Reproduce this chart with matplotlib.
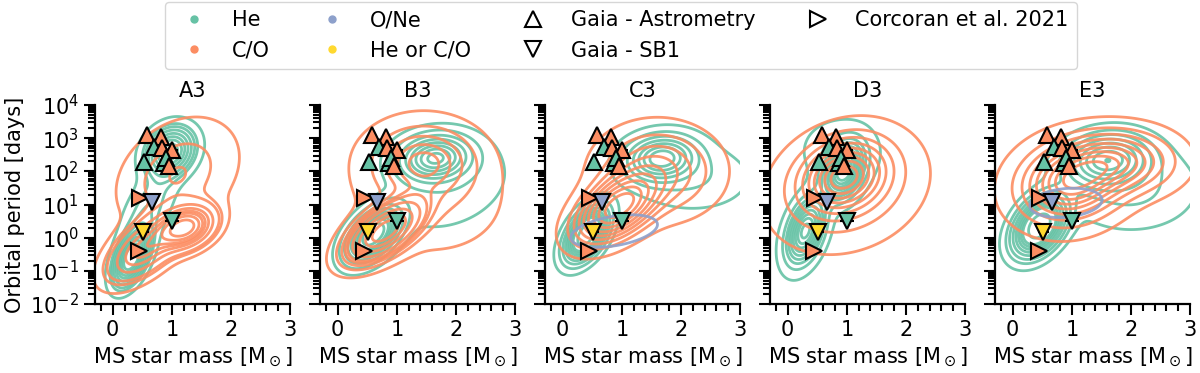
import matplotlib
matplotlib.use('Agg')
import matplotlib.pyplot as plt
import numpy as np
from matplotlib.lines import Line2D
from matplotlib.ticker import MultipleLocator, LogLocator, NullFormatter

plt.rcParams['font.size'] = 15

# colours (Set2)
c_he = '#66c2a5'
c_co = '#fc8d62'
c_one = '#8da0cb'
c_heco = '#ffd92f'

# observed systems
astro_mass = [0.58, 0.81, 0.69, 0.83, 1.00, 0.53, 0.86, 0.90, 0.95]
astro_period = [1250, 1100, 550, 500, 440, 195, 175, 250, 140]
astro_type = ['C/O', 'C/O', 'He', 'C/O', 'C/O', 'He', 'He', 'He', 'C/O']
astro_merr = [0.0, 0.05, 0.05, 0.08, 0.1, 0.0, 0.08, 0.08, 0.06]

sb1_mass = [0.67, 1.00, 0.52]
sb1_period = [11.5, 3.2, 1.45]
sb1_type = ['O/Ne', 'He', 'He or C/O']
sb1_merr = [0.0, 0.12, 0.1]

corc_mass = [0.46, 0.44]
corc_period = [15.5, 0.4]
corc_type = ['C/O', 'C/O']

# simulated populations:
# gaussian pieces [weight, mass, log10 P, sd mass, sd log10 P, corr]
he_a3 = [[0.42, 0.97, 2.60, 0.25, 0.45, 0.2],
         [0.40, 0.32, -0.60, 0.18, 0.50, 0.5],
         [0.18, 0.60, 0.90, 0.30, 0.80, 0.6]]
co_a3 = [[0.40, 1.22, 0.30, 0.26, 0.35, 0.3],
         [0.35, 0.55, -0.30, 0.35, 0.55, 0.6],
         [0.25, 1.10, 1.90, 0.60, 1.00, 0.3]]

he_b3 = [[0.40, 1.65, 2.40, 0.35, 0.40, 0.1],
         [0.45, 0.60, 0.10, 0.25, 0.45, 0.5],
         [0.15, 1.90, 1.50, 0.70, 0.90, 0.3]]
co_b3 = [[0.55, 0.80, 0.20, 0.35, 0.50, 0.6],
         [0.30, 1.45, 2.30, 0.55, 0.70, 0.0],
         [0.15, 1.60, 1.00, 0.80, 1.00, 0.0]]

he_c3 = [[0.40, 1.67, 2.40, 0.35, 0.40, 0.1],
         [0.45, 0.40, 0.10, 0.20, 0.45, 0.5],
         [0.15, 2.20, 1.80, 0.60, 0.60, 0.0]]
co_c3 = [[0.60, 0.92, 0.90, 0.40, 0.60, 0.5],
         [0.40, 1.60, 2.00, 0.60, 0.80, 0.0]]
one_c3 = [[1.0, 0.87, 0.20, 0.30, 0.20, 0.4]]

he_d3 = [[0.40, 0.95, 2.00, 0.20, 0.50, 0.3],
         [0.45, 0.30, 0.20, 0.20, 0.60, 0.4],
         [0.15, 0.90, 2.60, 0.40, 0.60, 0.0]]
co_d3 = [[0.60, 0.95, 1.85, 0.40, 0.60, 0.2],
         [0.40, 1.00, 1.50, 0.70, 1.00, 0.2]]

he_e3 = [[0.35, 1.60, 2.35, 0.40, 0.45, 0.1],
         [0.45, 0.45, 0.35, 0.25, 0.50, 0.4],
         [0.20, 2.00, 1.50, 0.70, 0.80, 0.0]]
co_e3 = [[0.60, 0.95, 1.60, 0.55, 0.75, 0.1],
         [0.40, 1.80, 2.30, 0.60, 0.60, 0.0]]
one_e3 = [[1.0, 0.90, 1.05, 0.25, 0.18, 0.2]]

panels = ['A3', 'B3', 'C3', 'D3', 'E3']
pops = {
    'A3': [(he_a3, c_he), (co_a3, c_co)],
    'B3': [(he_b3, c_he), (co_b3, c_co)],
    'C3': [(he_c3, c_he), (co_c3, c_co), (one_c3, c_one)],
    'D3': [(he_d3, c_he), (co_d3, c_co)],
    'E3': [(he_e3, c_he), (co_e3, c_co), (one_e3, c_one)],
}
type_color = {'He': c_he, 'C/O': c_co, 'O/Ne': c_one, 'He or C/O': c_heco}

mgrid, lgrid = np.meshgrid(np.linspace(-1.5, 4.5, 300), np.linspace(-3.5, 5.5, 300))


def density(pieces):
    z = np.zeros_like(mgrid)
    for w, mx, my, sx, sy, r in pieces:
        dx = (mgrid - mx) / sx
        dy = (lgrid - my) / sy
        q = (dx**2 - 2 * r * dx * dy + dy**2) / (1 - r**2)
        z += w * np.exp(-0.5 * q) / (2 * np.pi * sx * sy * np.sqrt(1 - r**2))
    return z


def iso_levels(z, props):
    # same idea as seaborn's iso-proportion levels
    vals = np.sort(z.ravel())[::-1]
    cum = np.cumsum(vals) / vals.sum()
    idx = np.searchsorted(cum, 1 - np.asarray(props))
    return np.unique(np.take(vals, idx, mode='clip'))


def draw_panel(ax, name):
    for pieces, col in pops[name]:
        z = density(pieces)
        if col == c_one:
            lv = iso_levels(z, [0.05])
        else:
            lv = iso_levels(z, np.linspace(0.05, 1, 10)[:-1])
        ax.contour(mgrid, 10**lgrid, z, levels=lv, colors=col,
                   linewidths=2, alpha=0.9, zorder=2)

    for m, p, t, e in zip(astro_mass, astro_period, astro_type, astro_merr):
        ax.errorbar(m, p, xerr=e, fmt='^', ms=11, mfc=type_color[t], mec='k',
                    mew=1.5, ecolor='k', elinewidth=1.5, zorder=5)
    for m, p, t, e in zip(sb1_mass, sb1_period, sb1_type, sb1_merr):
        ax.errorbar(m, p, xerr=e, fmt='v', ms=11, mfc=type_color[t], mec='k',
                    mew=1.5, ecolor='k', elinewidth=1.5, zorder=5)
    for m, p, t in zip(corc_mass, corc_period, corc_type):
        ax.plot(m, p, '>', ms=11, mfc=type_color[t], mec='k', mew=1.5, zorder=5)

    ax.set_yscale('log')
    ax.set_xlim(-0.3, 3)
    ax.set_ylim(1e-2, 1e4)
    ax.set_title(name, fontsize=15)
    ax.set_xlabel(r'MS star mass [M$_\odot$]')
    ax.xaxis.set_major_locator(MultipleLocator(1))
    ax.xaxis.set_minor_locator(MultipleLocator(0.2))
    ax.yaxis.set_major_locator(LogLocator(base=10, numticks=10))
    ax.yaxis.set_minor_locator(LogLocator(base=10, subs=np.arange(2, 10), numticks=20))
    ax.yaxis.set_minor_formatter(NullFormatter())
    ax.tick_params(which='major', length=8, width=1.5)
    ax.tick_params(which='minor', length=5, width=1.5)
    for s in ['top', 'right']:
        ax.spines[s].set_visible(False)
    for s in ['left', 'bottom']:
        ax.spines[s].set_linewidth(1.6)


fig = plt.figure(figsize=(12, 3.73), dpi=100)
for i, name in enumerate(panels):
    ax = fig.add_axes([(95 + 225 * i) / 1200, 69 / 373, 195 / 1200, 199 / 373])
    draw_panel(ax, name)
    if i == 0:
        ax.set_ylabel('Orbital period [days]')
    else:
        ax.tick_params(labelleft=False)

handles = [
    Line2D([], [], ls='', marker='o', ms=5, color=c_he, label='He'),
    Line2D([], [], ls='', marker='o', ms=5, color=c_co, label='C/O'),
    Line2D([], [], ls='', marker='o', ms=5, color=c_one, label='O/Ne'),
    Line2D([], [], ls='', marker='o', ms=5, color=c_heco, label='He or C/O'),
    Line2D([], [], ls='', marker='^', ms=12, mfc='w', mec='k', mew=1.5, label='Gaia - Astrometry'),
    Line2D([], [], ls='', marker='v', ms=12, mfc='w', mec='k', mew=1.5, label='Gaia - SB1'),
    Line2D([], [], ls='', marker='>', ms=12, mfc='w', mec='k', mew=1.5, label='Corcoran et al. 2021'),
]
fig.legend(handles=handles, loc='upper left', bbox_to_anchor=(165 / 1200, 0.995), ncol=4,
           borderaxespad=0)

plt.savefig('out.png', dpi=100)
